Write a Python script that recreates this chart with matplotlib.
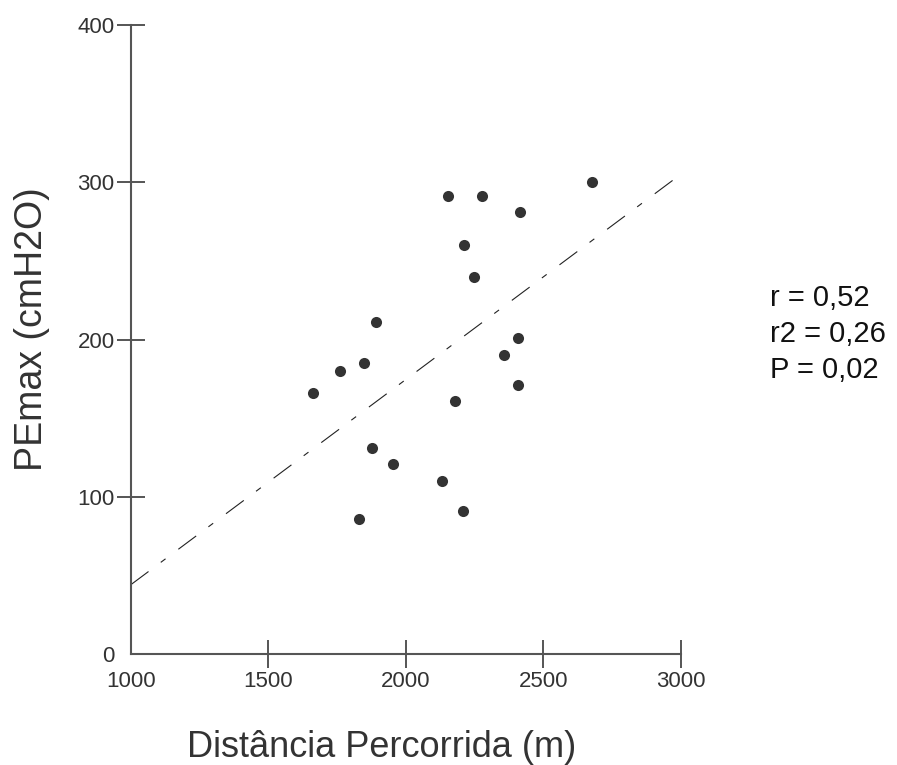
import matplotlib
matplotlib.use("Agg")
import matplotlib.pyplot as plt

# distance walked (m) and PEmax (cmH2O)
distancia = [2679, 2154, 2276, 2414, 2211, 2247, 1892, 2407, 2358, 1847,
             1760, 1664, 2407, 2181, 1876, 1953, 2131, 2210, 1829]
pemax = [300, 291, 291, 281, 260, 240, 211, 201, 190, 185,
         180, 166, 171, 161, 131, 121, 110, 91, 86]

# regression line ends
reta_x = [1000, 3000]
reta_y = [44, 305]

xticks = [1000, 1500, 2000, 2500, 3000]
yticks = [0, 100, 200, 300, 400]
stats = ["r = 0,52", "r2 = 0,26", "P = 0,02"]

plt.rcParams['font.family'] = ['Liberation Sans', 'DejaVu Sans']
plt.rcParams['lines.scale_dashes'] = False

fig = plt.figure(figsize=(8.97, 7.65), dpi=100)
ax = fig.add_axes([130.7 / 897, 1 - 654 / 765, 550 / 897, 629 / 765])

ax.plot(reta_x, reta_y, color='#222222', lw=0.8, dashes=[16, 11, 4.3, 11.5])
ax.plot(distancia, pemax, 'o', color='#333333', markersize=8, markeredgewidth=0)

ax.set_xlim(1000, 3000)
ax.set_ylim(0, 400)
ax.set_xticks(xticks)
ax.set_yticks(yticks)
for s in ['top', 'right']:
    ax.spines[s].set_visible(False)
for s in ['left', 'bottom']:
    ax.spines[s].set_color('#555555')
    ax.spines[s].set_linewidth(1.5)
ax.tick_params(direction='inout', length=20, width=1.4, color='#555555',
               labelsize=16, labelcolor='#333333')
ax.tick_params(axis='x', pad=2)
ax.tick_params(axis='y', pad=1.5)
ax.xaxis.get_major_ticks()[0].tick1line.set_visible(False)
ax.yaxis.get_major_ticks()[0].tick1line.set_visible(False)

fig.text(382 / 897, 1 - 757 / 765, "Distância Percorrida (m)", fontsize=26,
         color='#333333', ha='center', va='baseline')
fig.text(32 / 897, 1 - 329 / 765, "PEmax (cmH2O)", fontsize=27,
         color='#333333', ha='center', va='center', rotation=90)

for i, s in enumerate(stats):
    fig.text(770 / 897, 1 - (306 + 36 * i) / 765, s, fontsize=21,
             color='#111111', ha='left', va='baseline')

fig.savefig("out.png", dpi=100)
